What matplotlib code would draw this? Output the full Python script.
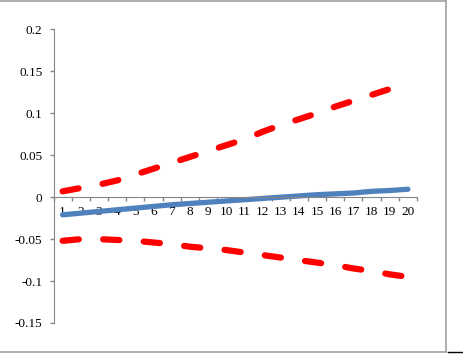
import matplotlib.pyplot as plt
from matplotlib.lines import Line2D

plt.rcParams['font.family'] = ['Liberation Serif', 'DejaVu Serif']

periods = list(range(1, 21))
estimate = [-0.021, -0.019, -0.017, -0.015, -0.013, -0.011, -0.009, -0.0075, -0.006, -0.0045,
            -0.003, -0.0015, 0.000, 0.0015, 0.003, 0.004, 0.005, 0.007, 0.008, 0.0095]
upper = [0.007, 0.011, 0.015, 0.020, 0.027, 0.034, 0.041, 0.048, 0.055, 0.062,
         0.069, 0.078, 0.086, 0.093, 0.100, 0.108, 0.115, 0.122, 0.129, 0.136]
lower = [-0.052, -0.050, -0.050, -0.051, -0.052, -0.054, -0.056, -0.059, -0.061, -0.063,
         -0.066, -0.069, -0.072, -0.075, -0.078, -0.081, -0.085, -0.088, -0.092, -0.095]
y_ticks = [-0.15, -0.1, -0.05, 0, 0.05, 0.1, 0.15, 0.2]
y_labels = ['-0.15', '-0.1', '-0.05', '0', '0.05', '0.1', '0.15', '0.2']

fig = plt.figure(figsize=(4.63, 3.54), dpi=100)
ax = fig.add_axes([0.1156, 0.0876, 0.785, 0.8291])

gray = '#868686'
red_style = dict(color='#ff0000', lw=4.5, dashes=(2.6, 3.9), dash_capstyle='round')
ax.plot(periods, upper, **red_style)
ax.plot(periods, lower, **red_style)
ax.plot(periods, estimate, color='#4f81bd', lw=3.8, solid_capstyle='round')

ax.set_xlim(0.5, 20.5)
ax.set_ylim(-0.15, 0.2)

for s in ['top', 'right']:
    ax.spines[s].set_visible(False)
ax.spines['bottom'].set_position(('data', 0))
ax.spines['bottom'].set_color(gray)
ax.spines['left'].set_color(gray)

ax.set_yticks(y_ticks)
ax.set_yticklabels(y_labels)
ax.tick_params(axis='y', length=3, width=1, color=gray, pad=5, labelsize=9.5)

ax.set_xticks(periods)
ax.set_xticklabels([str(p) for p in periods])
ax.set_xticks([p + 0.5 for p in range(0, 21)], minor=True)
ax.tick_params(axis='x', which='major', length=0, pad=6, labelsize=9.5)
ax.tick_params(axis='x', which='minor', length=3, width=1, color=gray, direction='out')

# outer frame of the chart area
fig.add_artist(Line2D([0, 446 / 463], [1 - 0.5 / 354, 1 - 0.5 / 354], color='#a0a0a0', lw=1.2))
fig.add_artist(Line2D([446 / 463, 446 / 463], [2 / 354, 1], color='#a0a0a0', lw=1.2))
fig.add_artist(Line2D([0, 446 / 463], [2 / 354, 2 / 354], color='#a0a0a0', lw=1.2))
fig.add_artist(Line2D([448 / 463, 1], [2 / 354, 2 / 354], color='black', lw=1))

fig.savefig('out.png', dpi=100)
